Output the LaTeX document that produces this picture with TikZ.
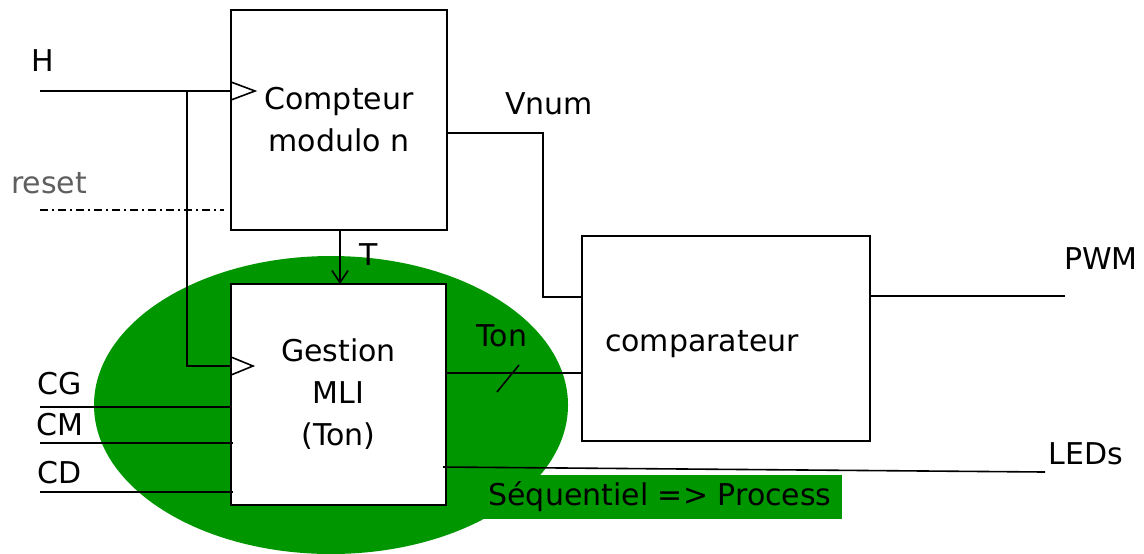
\documentclass[tikz,border=0pt]{standalone}
\usepackage{fontspec}
\setmainfont{DejaVu Sans}
\usepackage{tikz}
\usetikzlibrary{positioning, arrows.meta, shapes.geometric}

\definecolor{blobgreen}{RGB}{0,150,0}
\definecolor{resetgray}{RGB}{95,95,95}

\begin{document}
\begin{tikzpicture}[
    x=0.5pt, y=0.5pt,
    line width=0.8pt,
    font=\fontsize{15}{21}\selectfont,
    block/.style={draw, rectangle, fill=white, align=center, inner sep=0pt},
    sig/.style={inner sep=0pt},
]
\useasboundingbox (0,0) rectangle (1144,-553);

% --- green area ---
\node [
    ellipse,
    fill=blobgreen,
    minimum width=237pt,
    minimum height=149pt,
] (seqblob) at (331,-405) {};

\node [
    rectangle,
    fill=blobgreen,
    minimum width=182pt,
    minimum height=22pt,
    inner sep=0pt,
] (seqnote) at (660,-497) {S\'equentiel => Process};

% --- blocks ---
\node [
    block,
    minimum width=108pt,
    minimum height=110pt,
] (compteur) at (339,-120) {Compteur\\modulo n};

\node [
    block,
    minimum width=107.5pt,
    minimum height=110.5pt,
] (gestion) at (338.5,-394.5) {Gestion\\MLI\\(Ton)};

\node [
    block,
    minimum width=144pt,
    minimum height=102.5pt,
] (comparateur) at (726,-338.5) {};

\node [sig] (comptext) at (702,-344) {comparateur};

% --- signal names ---
\node [sig] (hlabel) at (43,-61) {H};
\node [sig, text=resetgray] (resetlabel) at (49,-183) {reset};
\node [sig] (vnumlabel) at (549,-104) {Vnum};
\node [sig] (tlabel) at (369,-255) {T};
\node [sig] (tonlabel) at (502,-336) {Ton};
\node [sig] (pwmlabel) at (1101,-259) {PWM};
\node [sig] (ledslabel) at (1086,-454) {LEDs};
\node [sig] (cglabel) at (60,-384) {CG};
\node [sig] (cmlabel) at (60,-425) {CM};
\node [sig] (cdlabel) at (60,-473) {CD};

% --- wire ends ---
\coordinate (hin) at (40,-91);
\coordinate (hbranch) at (187,-91);
\coordinate (clka) at (231,-91);
\coordinate (clkb) at (231,-366);
\coordinate (resetin) at (40,-210);
\coordinate (resetend) at (224,-210);
\coordinate (vnumout) at (447,-133);
\coordinate (vnumin) at (582,-297);
\coordinate (tout) at (340,-230);
\coordinate (tin) at (340,-284);
\coordinate (tonout) at (446,-373);
\coordinate (tonin) at (582,-373);
\coordinate (pwmout) at (870,-296);
\coordinate (pwmend) at (1065,-296);
\coordinate (ledsout) at (443,-467);
\coordinate (ledsend) at (1045,-472);
\coordinate (cgin) at (40,-407);
\coordinate (cgend) at (231,-407);
\coordinate (cmin) at (40,-443);
\coordinate (cmend) at (233,-443);
\coordinate (cdin) at (40,-492);
\coordinate (cdend) at (233,-492);

% --- connections ---
\begin{scope}[line width=0.8pt]
\draw (hin) -- (clka);
\draw (hbranch) |- (clkb);

\draw (clka) ++(0,9) -- ++(24,-9) -- ++(-24,-9);
\draw (clkb) ++(0,9) -- ++(22,-9) -- ++(-22,-9);

\draw [line width=0.6pt, dash pattern=on 4pt off 2pt on 1pt off 2pt] (resetin) -- (resetend);

\draw (vnumout) -| (543,-297) -- (vnumin);
\draw [-{Straight Barb[length=6pt, width=8pt]}] (tout) -- (tin);

\draw (tonout) -- (tonin);
\draw (497,-392) -- (519,-365);

\draw (pwmout) -- (pwmend);
\draw (ledsout) -- (ledsend);

\draw (cgin) -- (cgend);
\draw (cmin) -- (cmend);
\draw (cdin) -- (cdend);
\end{scope}

\end{tikzpicture}
\end{document}
